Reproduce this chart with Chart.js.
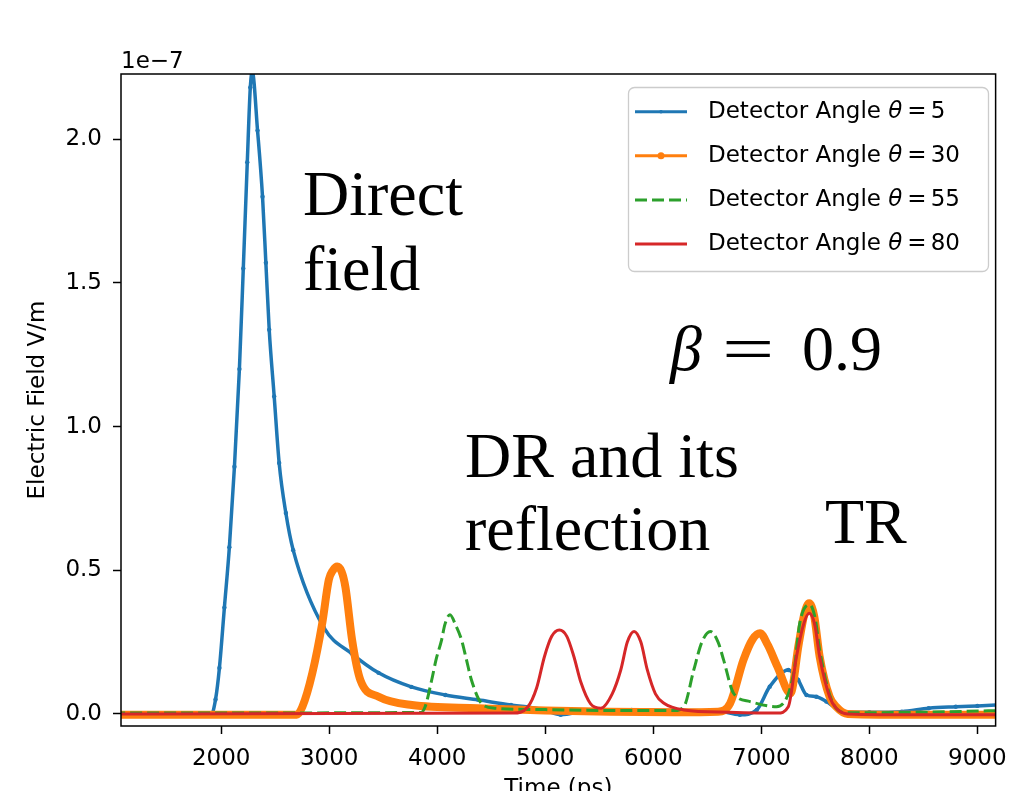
<!DOCTYPE html>
<html>
<head>
<meta charset="utf-8">
<title>Electric field vs time</title>
<script src="https://cdn.jsdelivr.net/npm/chart.js@4.4.1/dist/chart.umd.min.js"></script>
<style>
  html, body { margin: 0; padding: 0; background: #fff; }
  #chart { display: block; }
</style>
</head>
<body>
<canvas id="chart" width="1018" height="791"></canvas>
<script>
// ---------------- DATA (field in units of 1e-7 V/m, time in ps) ----------------
const angles = [5, 30, 55, 80];

const theta5Time  = [1000, 1850, 1911, 1948, 1984, 2030, 2076, 2123, 2169, 2205, 2242, 2270, 2288, 2337, 2383, 2414, 2445, 2491, 2537, 2599, 2667, 2951, 3209, 3457, 3761, 4075, 4379, 4683, 4840, 4993, 5143, 5400, 5800, 6200, 6600, 6802, 6958, 7078, 7250, 7342, 7418, 7510, 7602, 7694, 7756, 8000, 8300, 8550, 8800, 9000, 9250];
const theta5Field = [0, 0, 0.0, 0.05, 0.16, 0.37, 0.58, 0.86, 1.20, 1.55, 1.92, 2.18, 2.235, 2.03, 1.80, 1.57, 1.337, 1.105, 0.873, 0.699, 0.57, 0.30, 0.21, 0.143, 0.094, 0.066, 0.049, 0.031, 0.024, 0.014, -0.003, 0.012, 0.014, 0.012, 0.01, -0.003, 0.014, 0.095, 0.153, 0.118, 0.066, 0.06, 0.043, 0.02, 0.008, 0.006, 0.008, 0.02, 0.025, 0.028, 0.032];

const theta30Time  = [1000, 2700, 2752, 2844, 2936, 2997, 3035, 3074, 3115, 3151, 3212, 3289, 3458, 3765, 4379, 5000, 5600, 6200, 6600, 6712, 6835, 6920, 6988, 7060, 7149, 7270, 7345, 7400, 7443, 7490, 7540, 7632, 7694, 7800, 8500, 9250];
const theta30Field = [-0.003, -0.003, 0.025, 0.142, 0.316, 0.467, 0.50, 0.513, 0.495, 0.44, 0.258, 0.118, 0.06, 0.031, 0.02, 0.012, 0.008, 0.006, 0.008, 0.037, 0.188, 0.26, 0.281, 0.24, 0.165, 0.072, 0.24, 0.35, 0.385, 0.34, 0.2, 0.06, 0.025, 0.0, -0.003, -0.003];

const theta55Time  = [1000, 3850, 3888, 3949, 3990, 4041, 4070, 4118, 4170, 4225, 4270, 4317, 4409, 4533, 5000, 5600, 6200, 6283, 6375, 6450, 6528, 6600, 6651, 6743, 6896, 7141, 7300, 7356, 7449, 7500, 7540, 7663, 7800, 8500, 9250];
const theta55Field = [0.003, 0.005, 0.025, 0.118, 0.19, 0.258, 0.31, 0.345, 0.31, 0.258, 0.19, 0.118, 0.037, 0.02, 0.015, 0.012, 0.012, 0.025, 0.153, 0.25, 0.287, 0.25, 0.188, 0.072, 0.043, 0.025, 0.142, 0.316, 0.38, 0.33, 0.223, 0.037, 0.004, 0.006, 0.012];

const theta80Time  = [1000, 4700, 4840, 4920, 4993, 5060, 5131, 5200, 5265, 5330, 5420, 5515, 5620, 5699, 5760, 5822, 5885, 5945, 6020, 6099, 6283, 6700, 7150, 7250, 7326, 7390, 7443, 7495, 7540, 7632, 7694, 7800, 8500, 9250];
const theta80Field = [0, 0.003, 0.025, 0.09, 0.2, 0.27, 0.292, 0.27, 0.2, 0.11, 0.035, 0.02, 0.07, 0.153, 0.25, 0.287, 0.25, 0.153, 0.07, 0.037, 0.014, 0.006, 0.003, 0.025, 0.2, 0.31, 0.35, 0.31, 0.2, 0.06, 0.02, 0.0, -0.003, -0.003];

const xTicks = [2000, 3000, 4000, 5000, 6000, 7000, 8000, 9000];
const yTicks = [0.0, 0.5, 1.0, 1.5, 2.0];
const yExponent = -7;

const colors = ["#1f77b4", "#ff7f0e", "#2ca02c", "#d62728"];

function pts(t, v) {
  return t.map((x, i) => ({ x: x, y: v[i] }));
}

// ---------------- OVERLAY: frame, legend, notes ----------------
const overlay = {
  id: "overlay",
  afterDatasetsDraw(chart) {
    const ctx = chart.ctx;
    const a = chart.chartArea;
    ctx.save();

    // axes frame
    ctx.strokeStyle = "#000";
    ctx.lineWidth = 1.5;
    ctx.strokeRect(a.left, a.top, a.right - a.left, a.bottom - a.top);

    // offset text
    ctx.fillStyle = "#000";
    ctx.font = '23px "DejaVu Sans"';
    ctx.textAlign = "left";
    ctx.textBaseline = "alphabetic";
    ctx.fillText("1e\u2212" + Math.abs(yExponent), a.left, 68);

    // legend box
    const bx = 628.5, by = 87.5, bw = 360, bh = 184, r = 6;
    ctx.beginPath();
    ctx.moveTo(bx + r, by);
    ctx.arcTo(bx + bw, by, bx + bw, by + bh, r);
    ctx.arcTo(bx + bw, by + bh, bx, by + bh, r);
    ctx.arcTo(bx, by + bh, bx, by, r);
    ctx.arcTo(bx, by, bx + bw, by, r);
    ctx.closePath();
    ctx.fillStyle = "rgba(255,255,255,0.8)";
    ctx.fill();
    ctx.strokeStyle = "#cccccc";
    ctx.lineWidth = 1.3;
    ctx.stroke();

    const rows = [111.7, 155.7, 200, 244];
    angles.forEach((ang, i) => {
      const y = rows[i];
      ctx.beginPath();
      ctx.strokeStyle = colors[i];
      ctx.lineWidth = 3;
      ctx.setLineDash(i === 2 ? [12, 5] : []);
      ctx.moveTo(635, y);
      ctx.lineTo(687, y);
      ctx.stroke();
      ctx.setLineDash([]);
      if (i === 0 || i === 1) {
        ctx.beginPath();
        ctx.fillStyle = colors[i];
        ctx.arc(661, y, i === 0 ? 1.8 : 3.5, 0, Math.PI * 2);
        ctx.fill();
      }

      ctx.fillStyle = "#000";
      ctx.textBaseline = "middle";
      let x = 708;
      ctx.font = '23px "DejaVu Sans"';
      const head = "Detector Angle ";
      ctx.fillText(head, x, y);
      x += ctx.measureText(head).width;
      ctx.font = 'italic 23px "DejaVu Sans"';
      ctx.fillText("\u03b8", x, y);
      x += ctx.measureText("\u03b8").width + 5;
      ctx.font = '23px "DejaVu Sans"';
      ctx.fillText("=", x, y);
      x += ctx.measureText("=").width + 4;
      ctx.fillText(String(ang), x, y);
    });

    // annotations
    ctx.fillStyle = "#000";
    ctx.textBaseline = "alphabetic";
    ctx.textAlign = "left";
    ctx.font = '64px "Liberation Serif"';
    ctx.fillText("Direct", 303, 215);
    ctx.fillText("field", 303, 290);
    ctx.fillText("DR and its", 465, 477);
    ctx.fillText("reflection", 465, 550);
    ctx.fillText("TR", 825, 543);
    ctx.font = 'italic 64px "Liberation Serif"';
    ctx.fillText("\u03b2", 670, 370);
    ctx.font = '64px "Liberation Serif"';
    ctx.save();
    ctx.translate(722, 370);
    ctx.scale(1.45, 1);
    ctx.fillText("=", 0, 0);
    ctx.restore();
    ctx.textAlign = "right";
    ctx.fillText("0.9", 882, 370);

    ctx.restore();
  }
};

// ---------------- CHART ----------------
const ctx = document.getElementById("chart");

const tickFont = { family: "DejaVu Sans", size: 23 };

new Chart(ctx, {
  type: "line",
  data: {
    datasets: [
      {
        label: "Detector Angle \u03b8 = " + angles[0],
        data: pts(theta5Time, theta5Field),
        borderColor: colors[0],
        backgroundColor: colors[0],
        borderWidth: 3.5,
        pointRadius: 2.2,
        pointBorderWidth: 0,
        order: 4
      },
      {
        label: "Detector Angle \u03b8 = " + angles[1],
        data: pts(theta30Time, theta30Field),
        borderColor: colors[1],
        backgroundColor: colors[1],
        borderWidth: 8,
        pointRadius: 0,
        order: 3
      },
      {
        label: "Detector Angle \u03b8 = " + angles[2],
        data: pts(theta55Time, theta55Field),
        borderColor: colors[2],
        backgroundColor: colors[2],
        borderWidth: 3,
        borderDash: [12, 5],
        pointRadius: 0,
        order: 2
      },
      {
        label: "Detector Angle \u03b8 = " + angles[3],
        data: pts(theta80Time, theta80Field),
        borderColor: colors[3],
        backgroundColor: colors[3],
        borderWidth: 3,
        pointRadius: 0,
        order: 1
      }
    ]
  },
  options: {
    responsive: false,
    animation: false,
    devicePixelRatio: 1,
    events: [],
    clip: 0,
    elements: {
      line: { cubicInterpolationMode: "monotone", fill: false }
    },
    layout: { padding: { top: 74, right: 18, left: 0, bottom: 0 } },
    plugins: {
      legend: { display: false },
      tooltip: { enabled: false }
    },
    scales: {
      x: {
        type: "linear",
        min: 1073,
        max: 9169,
        afterBuildTicks: s => { s.ticks = xTicks.map(v => ({ value: v })); },
        afterFit: s => { s.height = 65; },
        border: { display: false },
        grid: { drawOnChartArea: false, drawTicks: true, tickLength: 8, tickColor: "#000", tickWidth: 1.5 },
        ticks: {
          color: "#000",
          font: tickFont,
          padding: 11,
          maxRotation: 0,
          autoSkip: false,
          callback: v => String(v)
        },
        title: {
          display: true,
          text: "Time (ps)",
          color: "#000",
          font: tickFont,
          padding: { top: 0, bottom: -12 }
        }
      },
      y: {
        type: "linear",
        min: -0.042,
        max: 2.227,
        afterBuildTicks: s => { s.ticks = yTicks.map(v => ({ value: v })); },
        afterFit: s => { s.width = 121; },
        border: { display: false },
        grid: { drawOnChartArea: false, drawTicks: true, tickLength: 8, tickColor: "#000", tickWidth: 1.5 },
        ticks: {
          color: "#000",
          font: tickFont,
          padding: 11,
          callback: v => Number(v).toFixed(1)
        },
        title: {
          display: true,
          text: "Electric Field V/m",
          color: "#000",
          font: tickFont,
          padding: { top: 24, bottom: 0 }
        }
      }
    }
  },
  plugins: [overlay]
});
</script>
</body>
</html>
